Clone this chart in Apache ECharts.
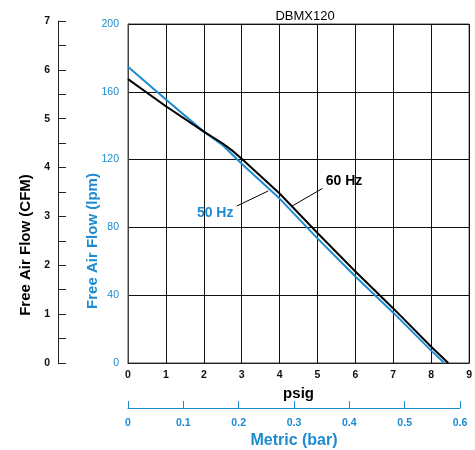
<!DOCTYPE html>
<html><head><meta charset="utf-8">
<script src="https://cdn.jsdelivr.net/npm/echarts@6/dist/echarts.min.js"></script>
<style>html,body{margin:0;padding:0;background:#fff}#c{width:475px;height:450px}</style>
</head><body><div id="c"></div>
<script>
// ---- data ----
var title = 'DBMX120';
var psig60 = [0, 1, 2, 2.5, 2.75, 3, 4, 5, 6, 7, 8, 8.45];
var lpm60  = [167.5, 151.5, 136.5, 129.5, 125.3, 120.5, 100, 76.7, 54, 32.2, 9.6, 0];
var psig50 = [0, 1, 2, 2.5, 3, 4, 5, 6, 7, 8, 8.35];
var lpm50  = [174.8, 155.5, 136.5, 128.5, 117.5, 97, 73.5, 51, 29.7, 7.3, 0];
var seriesNames = ['50 Hz', '60 Hz'];
var psigTicks = [0, 9, 1];     // min, max, step
var lpmTicks = [0, 200, 40];
var cfmTicks = [0, 7, 1];
var barTicks = [0, 0.6, 0.1];
// annotation anchors in data coords (psig, lpm)
var note60 = {text: [5.70, 107.4], line: [[4.30, 92.2], [5.13, 103]]};
var note50 = {text: [2.30, 88.5], line: [[2.87, 92.6], [3.70, 101.5]]};

var BLUE = '#1c8bd0';
var FONT = '"Liberation Sans", Arial, Helvetica, sans-serif';

function pairs(xs, ys){ return xs.map(function(x,i){ return [x, ys[i]]; }); }

var chart = echarts.init(document.getElementById('c'), null, {renderer:'canvas'});
var option = {
  animation: false,
  textStyle: {fontFamily: FONT},
  title: {text: title, left: 300, top: 5, textAlign: 'center',
    textStyle: {fontFamily: FONT, fontSize: 13, fontWeight: 'normal', color: '#000'}},
  grid: [
    {left: 128, top: 24, width: 343, height: 339, show: true, borderColor: '#444', borderWidth: 1},
    {left: 58, top: 21, width: 1, height: 342},
    {left: 128, top: 400, width: 332, height: 10}
  ],
  xAxis: [
    {gridIndex: 0, type: 'value', min: psigTicks[0], max: psigTicks[1], interval: psigTicks[2],
      axisLine: {show: true, lineStyle: {color: '#222', width: 1}}, axisTick: {show: false},
      axisLabel: {margin: 7, fontSize: 10.5, fontWeight: 'bold', color: '#111', fontFamily: FONT},
      splitLine: {show: true, lineStyle: {color: '#111', width: 1}},
      name: 'psig', nameLocation: 'middle', nameGap: 18,
      nameTextStyle: {fontFamily: FONT, fontSize: 15, fontWeight: 'bold', color: '#000'}},
    {gridIndex: 1, type: 'value', show: false, min: 0, max: 1},
    {gridIndex: 2, type: 'value', min: barTicks[0], max: barTicks[1], interval: barTicks[2],
      axisLine: {show: true, lineStyle: {color: BLUE, width: 1}},
      axisTick: {show: true, inside: true, length: 7, lineStyle: {color: BLUE, width: 1}},
      axisLabel: {margin: 10, fontSize: 10.5, fontWeight: 'bold', color: BLUE, fontFamily: FONT,
        formatter: function(v){ return v === 0 ? '0' : v.toFixed(1); }},
      splitLine: {show: false},
      name: 'Metric (bar)', nameLocation: 'middle', nameGap: 25,
      nameTextStyle: {fontFamily: FONT, fontSize: 16, fontWeight: 'bold', color: BLUE}}
  ],
  yAxis: [
    {gridIndex: 0, type: 'value', min: lpmTicks[0], max: lpmTicks[1], interval: lpmTicks[2],
      axisLine: {show: true, lineStyle: {color: '#444', width: 1}}, axisTick: {show: false},
      axisLabel: {margin: 9, fontSize: 10.5, color: BLUE, fontFamily: FONT},
      splitLine: {show: true, lineStyle: {color: '#111', width: 1}}},
    {gridIndex: 1, type: 'value', min: cfmTicks[0], max: cfmTicks[1], interval: cfmTicks[2] / 2,
      axisLine: {show: true, lineStyle: {color: '#222', width: 1}},
      axisTick: {show: true, inside: true, length: 8, lineStyle: {color: '#222', width: 1}},
      axisLabel: {margin: 8, fontSize: 10.5, fontWeight: 'bold', color: '#111', fontFamily: FONT,
        formatter: function(v){ return (v % 1 === 0) ? String(v) : ''; }},
      splitLine: {show: false}},
    {gridIndex: 2, type: 'value', show: false, min: 0, max: 1}
  ],
  series: [
    {name: seriesNames[0], type: 'line', xAxisIndex: 0, yAxisIndex: 0, data: pairs(psig50, lpm50),
      showSymbol: false, symbol: 'none', lineStyle: {color: BLUE, width: 2}, z: 3},
    {name: seriesNames[1], type: 'line', xAxisIndex: 0, yAxisIndex: 0, data: pairs(psig60, lpm60),
      showSymbol: false, symbol: 'none', lineStyle: {color: '#000', width: 2}, z: 4}
  ]
};
chart.setOption(option);

function px(p){ return chart.convertToPixel({xAxisIndex: 0, yAxisIndex: 0}, p); }
function leader(n){
  var a = px(n.line[0]), b = px(n.line[1]);
  return {type: 'line', shape: {x1: a[0], y1: a[1], x2: b[0], y2: b[1]},
    style: {stroke: '#000', lineWidth: 1}, z: 10};
}
function label(n, txt, color){
  var t = px(n.text);
  return {type: 'text', x: t[0], y: t[1], z: 10,
    style: {text: txt, fill: color, font: 'bold 14px ' + FONT, textAlign: 'center', textVerticalAlign: 'middle'}};
}
chart.setOption({graphic: [
  {type: 'text', x: 26, y: 245, rotation: Math.PI / 2,
    style: {text: 'Free Air Flow (CFM)', fill: '#000', font: 'bold 15px ' + FONT, textAlign: 'center', textVerticalAlign: 'middle'}},
  {type: 'text', x: 93, y: 241, rotation: Math.PI / 2,
    style: {text: 'Free Air Flow (lpm)', fill: BLUE, font: 'bold 15px ' + FONT, textAlign: 'center', textVerticalAlign: 'middle'}},
  leader(note60), leader(note50),
  label(note60, seriesNames[1], '#000'),
  label(note50, seriesNames[0], BLUE)
]});
</script></body></html>
